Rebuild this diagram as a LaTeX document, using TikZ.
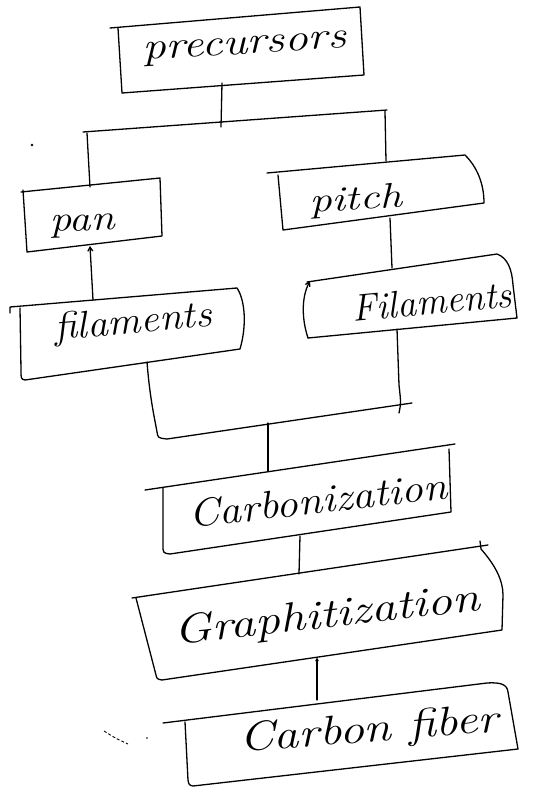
\documentclass[tikz,border=0pt]{standalone}
\usetikzlibrary{arrows.meta}
% hand-lettered label: width is forced, height follows the font size
\newcommand{\handtext}[3]{\resizebox{#1}{\height}{\fontsize{#2}{#2}\selectfont\itshape #3}}
\begin{document}
\begin{tikzpicture}[x=1pt,y=-1pt,
  ink/.style={line width=1.3pt, line join=round, line cap=round, black},
  lbl/.style={inner sep=0pt, anchor=base west, black},
  tip/.style={-{Straight Barb[length=4pt,width=5pt]}},
]
\useasboundingbox[fill=white] (0,0) rectangle (540,798);

% ---------- boxes ----------
% precursors
\draw[ink] (110,28) -- (360,7) -- (364,75) -- (122,93) -- (118,28);
\node[lbl, rotate=3.5] (precursors) at (143,60) {\handtext{204pt}{38}{precursors}};

% pan
\draw[ink] (21,192) -- (160,178) -- (162,236) -- (27,252) -- (23,190);
\node[lbl, rotate=2.5] (pan) at (50,232) {\handtext{65pt}{36}{pan}};

% pitch
\draw[ink] (267,173) -- (465,155) .. controls (478,168) and (484,185) .. (484,203) -- (283,230) -- (278,175);
\node[lbl, rotate=4] (pitch) at (310,213) {\handtext{93pt}{35}{pitch}};

% filaments (left)
\draw[ink] (10,313) -- (10,307) -- (237,288) .. controls (245,300) and (247,325) .. (240,349)
  -- (25,380) .. controls (21,379) .. (21,370) -- (20,308);
\node[lbl, rotate=5] (filL) at (55,340) {\handtext{158pt}{38}{filaments}};

% Filaments (right)
\draw[ink] (307,282) -- (497,254) .. controls (508,258) and (512,270) .. (513,285) -- (517,318) -- (308,338);
\node[lbl, rotate=5.5] (filR) at (353,322) {\handtext{160pt}{38}{Filaments}};

% Carbonization
\draw[ink] (145,490) -- (455,444);
\draw[ink] (449,449) -- (451,512) -- (170,554) .. controls (163,553) .. (163,545) -- (163,488);
\node[lbl, rotate=6.5] (carb) at (190,528) {\handtext{260pt}{39}{Carbonization}};

% Graphitization
\draw[ink] (132,598) -- (488,545);
\draw[ink] (480,541) -- (481,549) .. controls (495,565) and (503,580) .. (503,595) -- (502,630) -- (162,680)
  .. controls (157,679) .. (156,675) -- (136,598);
\node[lbl, rotate=6.5] (graph) at (175,645) {\handtext{308pt}{41}{Graphitization}};

% Carbon fiber
\draw[ink] (163,723) -- (487,683) .. controls (502,682) and (507,685) .. (508,692) -- (518,749) -- (193,786)
  .. controls (189,785) .. (188,780) -- (185,722);
\node[lbl, rotate=4.5] (fiber) at (240,752) {\handtext{260pt}{41}{Carbon fiber}};

% ---------- connector end points ----------
\coordinate (preOut)  at (222,83);
\coordinate (forkMid) at (221,127);
\coordinate (forkL)   at (83,132);
\coordinate (forkLc)  at (87,133);
\coordinate (forkR)   at (387,110);
\coordinate (forkRc)  at (385,111);
\coordinate (panIn)   at (90,187);
\coordinate (pitchIn) at (386,161);
\coordinate (pitchOut) at (390,218);
\coordinate (filRIn)  at (392,268);
\coordinate (filLUp)  at (93,300);
\coordinate (panUp)   at (90,246);
\coordinate (filRLow) at (308,338);
\coordinate (filRTop) at (310,281);
\coordinate (filLOut) at (147,362);
\coordinate (joinL)   at (167,439);
\coordinate (joinR)   at (412,403);
\coordinate (filROut) at (397,329);
\coordinate (joinRend) at (399,413);
\coordinate (joinMid) at (268,423);
\coordinate (carbIn)  at (268,471);
\coordinate (carbOut) at (300,536);
\coordinate (graphIn) at (299,574);
\coordinate (graphUp) at (317,657);
\coordinate (fiberUp) at (317,700);

% ---------- connectors ----------
\draw[ink] (preOut) -- (forkMid);
\draw[ink] (forkL) -- (forkR);
\draw[ink] (forkLc) -- (panIn);
\draw[ink] (forkRc) -- (pitchIn);
\draw[ink] (pitchOut) -- (filRIn);
\draw[ink, tip] (filLUp) -- (panUp);
\draw[ink, tip] (filRLow) .. controls (302,320) and (301,298) .. (filRTop);
\draw[ink] (filLOut) .. controls (150,400) and (155,420) .. (157,432) .. controls (158,438) .. (joinL) -- (joinR);
\draw[ink] (filROut) -- (399,385) .. controls (401,403) .. (joinRend);
\draw[ink] (joinMid) -- (carbIn);
\draw[ink] (carbOut) -- (graphIn);
\draw[ink, -{Latex[length=4pt,width=4pt]}] (fiberUp) -- (graphUp);

% ---------- stray pen marks ----------
\fill (32,145) circle (1.3pt);
\draw[line width=0.9pt, dash pattern=on 3pt off 2pt] (104,731) .. controls (115,738) .. (128,744);
\fill (147,738) circle (0.8pt);
\end{tikzpicture}
\end{document}
